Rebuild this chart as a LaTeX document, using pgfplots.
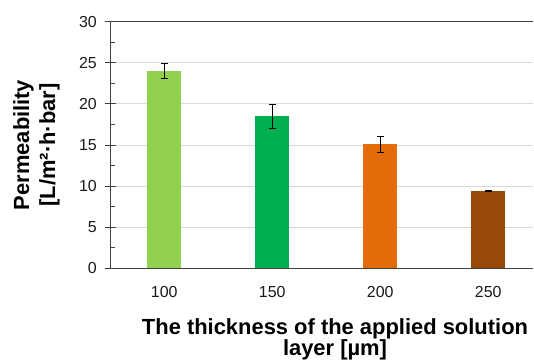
\documentclass[border=0pt]{standalone}
\usepackage{pgfplots}
\pgfplotsset{compat=1.18}
\usepackage{fontspec}
\setmainfont{Liberation Sans}
\definecolor{barA}{HTML}{92D050}
\definecolor{barB}{HTML}{00B050}
\definecolor{barC}{HTML}{E36C0A}
\definecolor{barD}{HTML}{984807}
\definecolor{gridc}{HTML}{D9D9D9}
\definecolor{axisc}{HTML}{404040}
\definecolor{textc}{HTML}{1A1A1A}
\begin{document}
\begin{tikzpicture}
\begin{axis}[
  at={(0,0)}, anchor=south west,
  scale only axis,
  width=422.7bp, height=246.6bp,
  xmin=-0.5, xmax=3.414,
  ymin=0, ymax=30,
  ytick={0,5,...,30},
  minor y tick num=1,
  xtick={0,1,2,3},
  xticklabels={100,150,200,250},
  xtick style={draw=none},
  axis x line*=bottom,
  axis y line*=left,
  axis line style={axisc, line width=1.2bp, -},
  major tick length=11bp,
  tick align=center,
  minor tick length=5bp,
  minor y tick style={xshift=2.5bp},
  tick style={axisc, line width=1bp},
  ymajorgrids,
  grid style={gridc, line width=1bp},
  /pgf/number format/assume math mode=true,
  tick label style={font=\fontsize{16}{18}\selectfont, text=textc},
  yticklabel style={xshift=-4.5bp},
  xticklabel style={yshift=-4bp},
  xlabel={The thickness of the applied solution\\layer [µm]},
  xlabel style={font=\fontsize{22}{21}\selectfont\bfseries, align=center,
    at={(axis description cs:0.5316,-0.2886)}, anchor=center},
  ylabel={Permeability\\{}[L/m²·h·bar]},
  ylabel style={font=\fontsize{22}{26}\selectfont\bfseries, align=center,
    at={(axis description cs:-0.1746,0.5)}, anchor=center, rotate=0},
  ybar, bar width=0.315, bar shift=0pt,
  error bars/y dir=both, error bars/y explicit,
  error bars/error mark options={rotate=90, mark size=3.5bp, black, line width=0.8bp},
  error bars/error bar style={black, line width=0.8bp},
]
\addplot[fill=barA, draw=none] coordinates {(0,24.05) +- (0,0.92)};
\addplot[fill=barB, draw=none] coordinates {(1,18.5) +- (0,1.5)};
\addplot[fill=barC, draw=none] coordinates {(2,15.1) +- (0,0.95)};
\addplot[fill=barD, draw=none] coordinates {(3,9.4) +- (0,0.1)};
\draw[axisc, line width=1.2bp] (rel axis cs:0,1) -- (rel axis cs:1,1);
\end{axis}
\pgfresetboundingbox
\path[use as bounding box] (-110.3bp,-92.7bp) rectangle (423.7bp,268.3bp);
\end{tikzpicture}
\end{document}
